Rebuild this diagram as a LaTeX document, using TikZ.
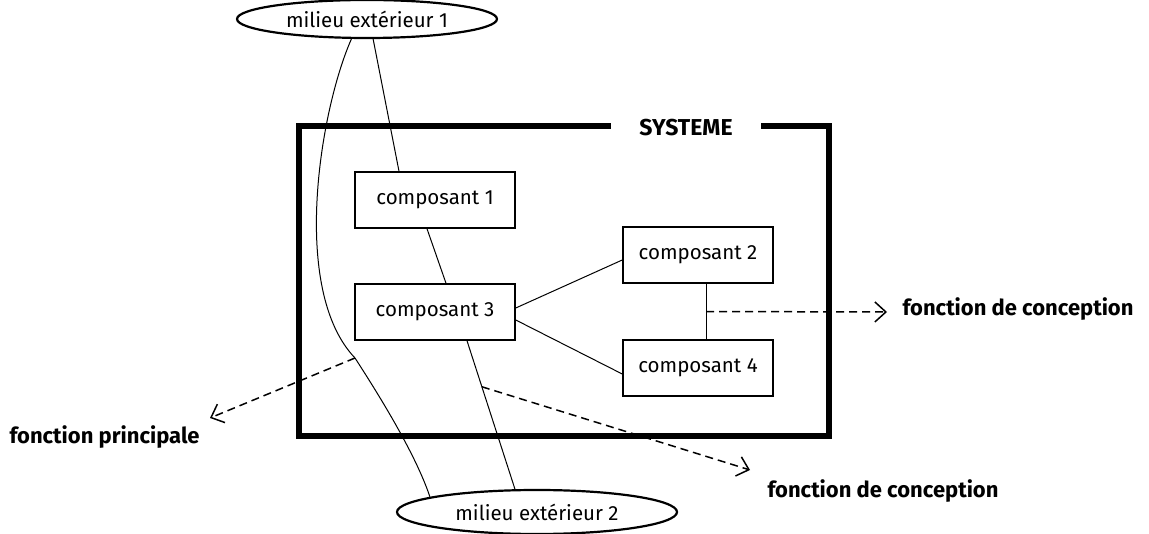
\documentclass[tikz,border=0pt]{standalone}
\usepackage{fontspec}
\setmainfont{Fira Sans}
\usetikzlibrary{shapes.geometric,arrows.meta}
\tikzset{
  comp/.style={draw, line width=1.5pt, minimum width=160pt, minimum height=56pt,
    font=\fontsize{20.5}{24}\selectfont},
  milieu/.style={draw, ellipse, line width=2.2pt, inner sep=0pt,
    font=\fontsize{20.5}{24}\selectfont},
  fct/.style={font=\bfseries\fontsize{22}{26}\selectfont},
  lien/.style={line width=1pt},
  fleche/.style={line width=1.5pt, dash pattern=on 8pt off 5pt,
    -{Straight Barb[length=11pt,width=20pt]}}
}
\begin{document}
\begin{tikzpicture}[x=1pt,y=-1pt]
\useasboundingbox (0,0) rectangle (1149,534);
% le systeme
\node[draw, line width=6.5pt, minimum width=530pt, minimum height=310pt] (sys) at (564,281) {};
\node[fill=white, minimum width=150pt, fct, font=\bfseries\fontsize{23}{26}\selectfont] (titre) at (686,128) {SYSTEME};

% milieux exterieurs
\node[milieu, minimum width=260pt, minimum height=38pt] (m1) at (367,19) {milieu extérieur 1};
\node[milieu, minimum width=280pt, minimum height=44pt] (m2) at (537,512) {milieu extérieur 2};

% composants
\node[comp] (c1) at (435,200) {composant 1};
\node[comp] (c3) at (435,312) {composant 3};
\node[comp, minimum width=150pt] (c2) at (698,255) {composant 2};
\node[comp, minimum width=150pt] (c4) at (698,368) {composant 4};

% liaisons
\draw[lien] (m1.287) -- ([xshift=-36pt]c1.north);
\draw[lien] ([xshift=-8pt]c1.south) -- ([xshift=11pt]c3.north);
\draw[lien] ([xshift=32pt]c3.south) -- coordinate[pos=.31] (fd) (m2.134);
\draw[lien] ([yshift=4pt]c3.east) -- ([yshift=-5pt]c2.west);
\draw[lien] ([yshift=-8pt]c3.east) -- ([yshift=-6pt]c4.west);
\draw[lien] ([xshift=8pt]c2.south) -- coordinate[pos=.5] (fc) ([xshift=8pt]c4.north);
\draw[lien] (m1.232) .. controls (320,110) and (290,290) .. (355,358) coordinate (fp)
  .. controls (375,389) and (415,452) .. (m2.172);

% fonctions
\coordinate (b1) at (887,312);
\coordinate (b2) at (210,418);
\coordinate (b3) at (750,470);
\node[fct, anchor=west] (f1) at (899,309) {fonction de conception};
\node[fct, anchor=west] (f2) at (6,437) {fonction principale};
\node[fct, anchor=west] (f3) at (764,491) {fonction de conception};
\draw[fleche] (fc) -- (b1);
\draw[fleche] (fp) -- (b2);
\draw[fleche] (fd) -- (b3);
\end{tikzpicture}
\end{document}
